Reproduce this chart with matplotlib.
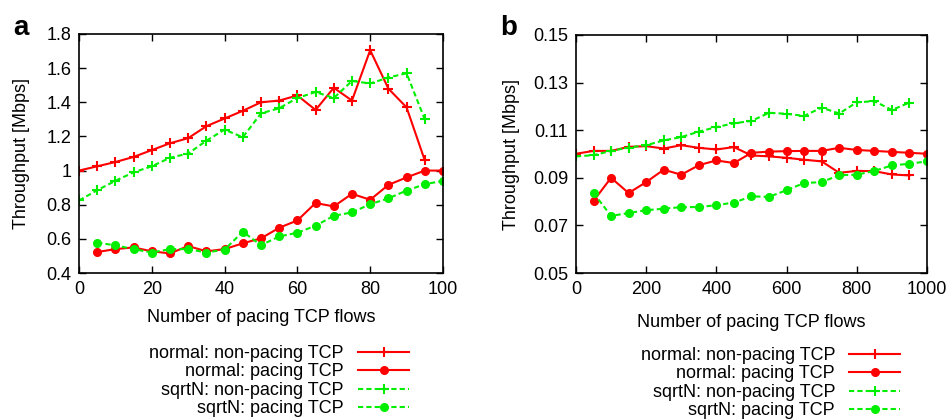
import numpy as np
from matplotlib import pyplot as plt
from matplotlib.ticker import FormatStrFormatter

plt.rcParams['font.family'] = ['Liberation Sans', 'DejaVu Sans']
plt.rcParams['font.size'] = 13

# panel a: 0..100 flows
xa_np = list(range(0, 100, 5))
xa_p = list(range(5, 101, 5))
a_normal_np = [1.0, 1.025, 1.05, 1.08, 1.12, 1.16, 1.19, 1.26, 1.305, 1.35,
               1.40, 1.41, 1.44, 1.355, 1.485, 1.41, 1.705, 1.48, 1.37, 1.06]
a_normal_p = [0.523, 0.54, 0.55, 0.527, 0.515, 0.558, 0.527, 0.54, 0.574, 0.603,
              0.665, 0.708, 0.81, 0.79, 0.864, 0.829, 0.916, 0.96, 1.0, 1.0]
a_sqrt_np = [0.825, 0.885, 0.94, 0.99, 1.025, 1.075, 1.10, 1.175, 1.24, 1.195,
             1.335, 1.365, 1.425, 1.46, 1.425, 1.525, 1.51, 1.545, 1.57, 1.30]
a_sqrt_p = [0.578, 0.562, 0.54, 0.52, 0.54, 0.54, 0.52, 0.537, 0.642, 0.563,
            0.614, 0.636, 0.677, 0.735, 0.755, 0.803, 0.837, 0.883, 0.92, 0.94]

# panel b: 0..1000 flows
xb_np = list(range(0, 1000, 50))
xb_p = list(range(50, 1001, 50))
b_normal_np = [0.1001, 0.1013, 0.1013, 0.1030, 0.1033, 0.1023, 0.1037, 0.1026, 0.1019, 0.1029,
               0.0994, 0.0990, 0.0984, 0.0976, 0.0969, 0.0921, 0.0929, 0.0928, 0.0914, 0.0910]
b_normal_p = [0.0803, 0.0900, 0.0836, 0.0882, 0.0934, 0.0913, 0.0953, 0.0973, 0.0962, 0.1005,
              0.1010, 0.1012, 0.1013, 0.1013, 0.1026, 0.1017, 0.1013, 0.1009, 0.1005, 0.1001]
b_sqrt_np = [0.0990, 0.0995, 0.1013, 0.1027, 0.1037, 0.1057, 0.1071, 0.1094, 0.1113, 0.1129,
             0.1139, 0.1173, 0.1169, 0.1160, 0.1195, 0.1170, 0.1217, 0.1222, 0.1185, 0.1216]
b_sqrt_p = [0.0836, 0.0740, 0.0752, 0.0764, 0.0770, 0.0777, 0.0777, 0.0785, 0.0796, 0.0822,
            0.0820, 0.0848, 0.0878, 0.0882, 0.0911, 0.0913, 0.0929, 0.0952, 0.0959, 0.0969]

labels = ['normal: non-pacing TCP', 'normal: pacing TCP',
          'sqrtN: non-pacing TCP', 'sqrtN: pacing TCP']

RED = '#ff0000'
GREEN = '#00ee00'
dash = (0, (2.5, 1.5))


def draw(ax, x_np, x_p, n_np, n_p, s_np, s_p):
    ax.plot(x_np, n_np, color=RED, lw=1.5, marker='+', ms=7, mew=1.5, label=labels[0])
    ax.plot(x_p, n_p, color=RED, lw=1.5, marker='o', ms=5.5, label=labels[1])
    ax.plot(x_np, s_np, color=GREEN, lw=1.5, ls=dash, marker='+', ms=7, mew=1.5, label=labels[2])
    ax.plot(x_p, s_p, color=GREEN, lw=1.5, ls=dash, marker='o', ms=5.5, label=labels[3])
    ax.tick_params(direction='in', top=True, right=True, length=5, width=1, pad=5.5)
    for s in ax.spines.values():
        s.set_linewidth(1.2)
    ax.set_ylabel('Throughput [Mbps]')
    ax.yaxis.set_major_formatter(FormatStrFormatter('%g'))


fig = plt.figure(figsize=(9.52, 4.19), dpi=100)
ax1 = fig.add_axes([0.083, 0.3484, 0.3823, 0.5705])
ax2 = fig.add_axes([0.605, 0.3484, 0.3687, 0.5681])

draw(ax1, xa_np, xa_p, a_normal_np, a_normal_p, a_sqrt_np, a_sqrt_p)
ax1.set_xlim(0, 100)
ax1.set_ylim(0.4, 1.8)
ax1.set_xticks(range(0, 101, 20))
ax1.set_yticks(np.arange(0.4, 1.81, 0.2))
ax1.set_xlabel('Number of pacing TCP flows')
ax1.xaxis.set_label_coords(0.5, -0.15)
ax1.yaxis.set_label_coords(-0.135, 0.5)

draw(ax2, xb_np, xb_p, b_normal_np, b_normal_p, b_sqrt_np, b_sqrt_p)
ax2.set_xlim(0, 1000)
ax2.set_ylim(0.05, 0.15)
ax2.set_xticks(range(0, 1001, 200))
ax2.set_yticks(np.arange(0.05, 0.151, 0.02))
ax2.set_xlabel('Number of pacing TCP flows')
ax2.xaxis.set_label_coords(0.5, -0.172)
ax2.yaxis.set_label_coords(-0.16, 0.5)

for ax, anchor in ((ax1, (0.4296, 0.1766)), (ax2, (0.9454, 0.1718))):
    ax.legend(loc='upper right', bbox_to_anchor=anchor, bbox_transform=fig.transFigure,
              frameon=False, markerfirst=False, handlelength=2.8, labelspacing=0.08,
              handletextpad=0.8, borderaxespad=0, borderpad=0)

fig.text(0.0137, 0.9165, 'a', fontsize=20, fontweight='bold')
fig.text(0.525, 0.9165, 'b', fontsize=20, fontweight='bold')

fig.savefig('out.png', dpi=100)
